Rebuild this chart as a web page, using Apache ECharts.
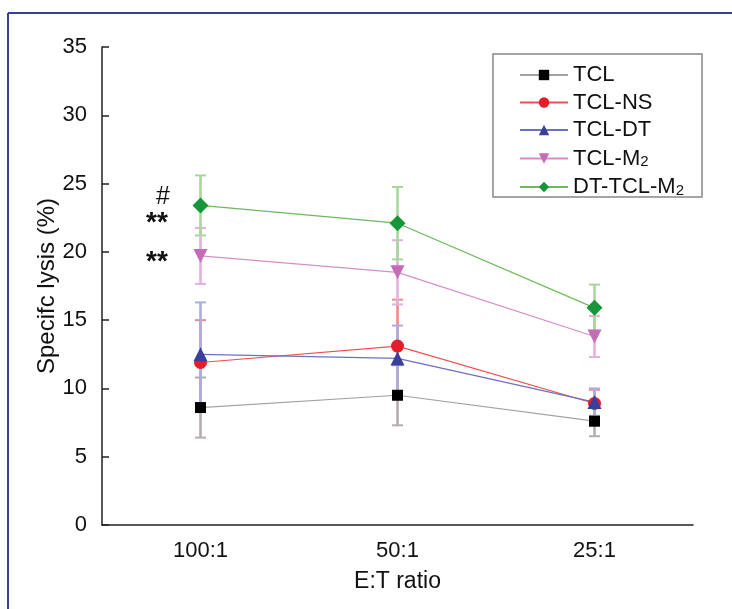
<!DOCTYPE html>
<html>
<head>
<meta charset="utf-8">
<script src="https://cdn.jsdelivr.net/npm/echarts@6/dist/echarts.min.js"></script>
<style>
html,body{margin:0;padding:0;background:#fff;}
#chart{width:732px;height:609px;}
</style>
</head>
<body>
<div id="chart"></div>
<script>
// ---- data ----
const categories = ['100:1', '50:1', '25:1'];
const seriesNames = ['TCL', 'TCL-NS', 'TCL-DT', 'TCL-M2', 'DT-TCL-M2'];
const tclValues = [8.6, 9.5, 7.6];
const tclErrors = [2.2, 2.2, 1.1];
const tclNsValues = [11.9, 13.1, 8.9];
const tclNsErrors = [3.1, 3.4, 1.0];
const tclDtValues = [12.5, 12.2, 9.0];
const tclDtErrors = [3.8, 2.4, 1.0];
const tclM2Values = [19.7, 18.5, 13.8];
const tclM2Errors = [2.05, 2.35, 1.5];
const dtTclM2Values = [23.4, 22.1, 15.9];
const dtTclM2Errors = [2.2, 2.65, 1.7];
const yTicks = [0, 5, 10, 15, 20, 25, 30, 35];

const FONT = "'Liberation Sans', Arial, sans-serif";
const styles = [
  {line: '#a8a0a0', marker: '#000000', err: '#b4adad', symbol: 'rect', size: 11},
  {line: '#f0504f', marker: '#e31e2a', err: '#f28a8a', symbol: 'circle', size: 13},
  {line: '#6c70c4', marker: '#3a3f9c', err: '#abaee0', symbol: 'triangle', size: 14},
  {line: '#d88ccc', marker: '#c46cb8', err: '#e4b0dc', symbol: 'path://M0,0 L10,0 L5,8 Z', size: 14},
  {line: '#6cba5c', marker: '#17953a', err: '#a8d89c', symbol: 'diamond', size: 16}
];
const values = [tclValues, tclNsValues, tclDtValues, tclM2Values, dtTclM2Values];
const errors = [tclErrors, tclNsErrors, tclDtErrors, tclM2Errors, dtTclM2Errors];

const chart = echarts.init(document.getElementById('chart'));

const series = [];
values.forEach((vals, s) => {
  series.push({
    name: seriesNames[s] + '_err',
    type: 'custom',
    z: 1,
    silent: true,
    encode: {x: 0, y: 1},
    data: vals.map((v, i) => [i, v, errors[s][i]]),
    renderItem: function (params, api) {
      const x = api.value(0), y = api.value(1), e = api.value(2);
      const top = api.coord([x, y + e]);
      const bot = api.coord([x, y - e]);
      const cw = 5.5;
      const st = {stroke: styles[s].err, lineWidth: 2};
      return {
        type: 'group',
        children: [
          {type: 'line', shape: {x1: top[0], y1: top[1], x2: bot[0], y2: bot[1]}, style: {stroke: styles[s].err, lineWidth: 2.6}},
          {type: 'line', shape: {x1: top[0] - cw, y1: top[1], x2: top[0] + cw, y2: top[1]}, style: st},
          {type: 'line', shape: {x1: bot[0] - cw, y1: bot[1], x2: bot[0] + cw, y2: bot[1]}, style: st}
        ]
      };
    }
  });
});
values.forEach((vals, s) => {
  series.push({
    name: seriesNames[s],
    type: 'line',
    z: 3,
    data: vals,
    symbol: styles[s].symbol,
    symbolSize: styles[s].size,
    showAllSymbol: true,
    lineStyle: {color: styles[s].line, width: 1.2},
    itemStyle: {color: styles[s].marker, opacity: 1},
    emphasis: {disabled: true},
    animation: false
  });
});

const option = {
  animation: false,
  backgroundColor: '#ffffff',
  textStyle: {fontFamily: FONT},
  grid: {left: 102, right: 39, top: 47, bottom: 84, containLabel: false},
  xAxis: {
    type: 'category',
    data: categories,
    boundaryGap: true,
    name: 'E:T ratio',
    nameLocation: 'middle',
    nameGap: 45,
    nameMoveOverlap: false,
    nameTextStyle: {fontSize: 23, color: '#111', fontFamily: FONT},
    axisLine: {lineStyle: {color: '#222', width: 1.5}},
    axisTick: {alignWithLabel: true, length: 7, lineStyle: {color: '#222', width: 1.5}},
    axisLabel: {fontSize: 22, color: '#111', margin: 15, fontFamily: FONT},
    splitLine: {show: false}
  },
  yAxis: {
    type: 'value',
    min: 0, max: 35, interval: 5,
    name: 'Specifc lysis (%)',
    nameLocation: 'middle',
    nameGap: 43,
    nameMoveOverlap: false,
    nameTextStyle: {fontSize: 24, color: '#111', fontFamily: FONT},
    axisLine: {show: true, lineStyle: {color: '#222', width: 1.5}},
    axisTick: {show: true, inside: true, length: 7, lineStyle: {color: '#222', width: 1.5}},
    axisLabel: {fontSize: 22, color: '#111', margin: 15, fontFamily: FONT,
      formatter: v => (yTicks.indexOf(v) >= 0 ? String(v) : '')},
    splitLine: {show: false}
  },
  legend: {
    orient: 'vertical',
    left: 519,
    top: 64,
    padding: 0,
    itemGap: 5.5,
    itemWidth: 48,
    itemHeight: 13,
    data: seriesNames,
    selectedMode: false,
    textStyle: {fontSize: 22, color: '#111', fontFamily: FONT, lineHeight: 22,
      rich: {s: {fontSize: 15, lineHeight: 22, verticalAlign: 'bottom', color: '#111', fontFamily: FONT, padding: [8, 0, 0, 0]}}},
    formatter: function (name) {
      return name.replace(/M2$/, 'M{s|2}');
    }
  },
  graphic: [
    {type: 'line', shape: {x1: 8, y1: 13, x2: 732, y2: 13}, style: {stroke: '#3b3e98', lineWidth: 2}, z: 10},
    {type: 'line', shape: {x1: 8, y1: 13, x2: 8, y2: 609}, style: {stroke: '#3b3e98', lineWidth: 2}, z: 10},
    {type: 'rect', shape: {x: 493, y: 54, width: 209, height: 143}, style: {fill: 'none', stroke: '#888', lineWidth: 1.5}, z: 10},
    {type: 'text', x: 163, y: 197, style: {text: '#', font: '25px ' + FONT, fill: '#111', textAlign: 'center', textVerticalAlign: 'middle'}},
    {type: 'text', x: 157, y: 223, style: {text: '**', font: 'bold 28px ' + FONT, fill: '#111', textAlign: 'center', textVerticalAlign: 'middle'}},
    {type: 'text', x: 157, y: 262, style: {text: '**', font: 'bold 28px ' + FONT, fill: '#111', textAlign: 'center', textVerticalAlign: 'middle'}}
  ],
  series: series
};
chart.setOption(option);
</script>
</body>
</html>
